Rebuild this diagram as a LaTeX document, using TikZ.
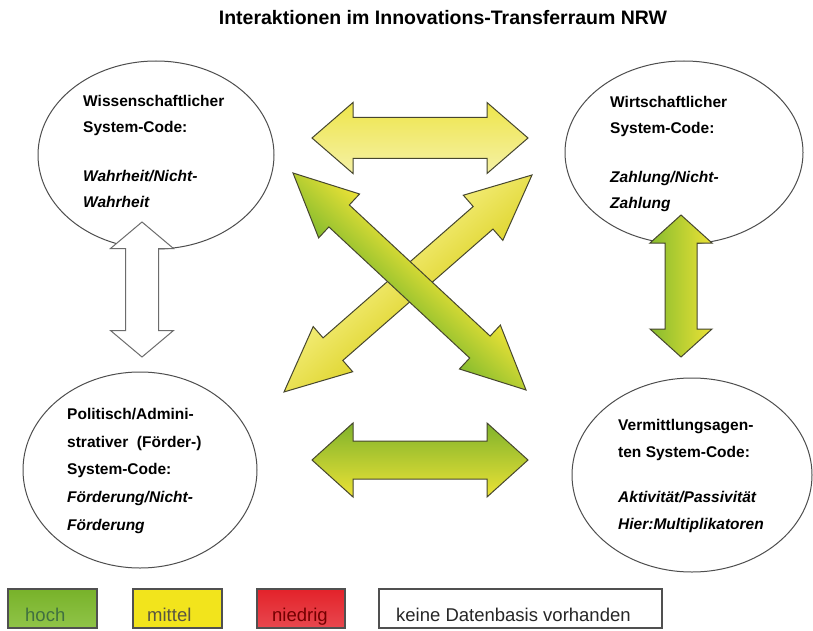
\documentclass[tikz,border=0pt]{standalone}
\usepackage{fontspec}
\setmainfont{Liberation Sans}
\usetikzlibrary{shapes.geometric}

\definecolor{arrowedge}{HTML}{46462E}
\definecolor{ellipseedge}{HTML}{4E4E4E}
\definecolor{boxedge}{HTML}{505050}
\definecolor{leaf}{HTML}{86BC2E}
\definecolor{sun}{HTML}{ECE236}
\definecolor{paleyellow}{HTML}{F5F1A6}
\definecolor{legendgreen}{HTML}{78B22A}
\definecolor{legendgreenlight}{HTML}{90C448}
\definecolor{legendyellow}{HTML}{F2E41C}
\definecolor{legendred}{HTML}{E3222A}
\definecolor{legendredlight}{HTML}{E8484F}

% double-headed block arrow along the local x axis:
% #1 length, #2 head length, #3 half head width, #4 half shaft width
\newcommand\dblarrowpath[4]{(0,0) -- (#2,#3) -- (#2,#4) -- ({#1-#2},#4) -- ({#1-#2},#3) -- (#1,0)
  -- ({#1-#2},-#3) -- ({#1-#2},-#4) -- (#2,-#4) -- (#2,-#3) -- cycle}

\begin{document}
\begin{tikzpicture}[x=1pt,y=-1pt,
  sysell/.style={draw=ellipseedge, line width=1pt, ellipse, inner sep=0pt, fill=white},
  codetext/.style={anchor=north west, inner sep=0pt, align=left,
    font=\fontsize{15.5}{26}\selectfont\bfseries},
  arrowline/.style={draw=arrowedge, line width=1pt, line join=miter},
  legbox/.style={draw=boxedge, line width=1.2pt, minimum height=39pt, inner sep=0pt},
  legtext/.style={anchor=base west, inner sep=0pt, font=\fontsize{18.5}{22}\selectfont},
]
\useasboundingbox[fill=white] (0,0) rectangle (813,631);

% title
\node[anchor=base, inner sep=0pt, font=\fontsize{19.5}{23}\selectfont\bfseries] (title)
  at (443,25) {Interaktionen im Innovations-Transferraum NRW};

% the four systems
\node[sysell, minimum width=236pt, minimum height=188pt] (wiss) at (156,155) {};
\node[sysell, minimum width=238pt, minimum height=183pt] (wirt) at (684,152.5) {};
\node[sysell, minimum width=234pt, minimum height=196pt] (polit) at (140,470) {};
\node[sysell, minimum width=240pt, minimum height=194pt] (verm) at (692,475) {};

% horizontal arrows
\begin{scope}[transform canvas={shift={(312,138)}}]
  \path[arrowline, top color=sun!90!white, bottom color=paleyellow] \dblarrowpath{216}{41}{35.5}{20.5};
\end{scope}
\begin{scope}[transform canvas={shift={(312,460)}}]
  \path[arrowline, top color=leaf!95!black, bottom color=sun] \dblarrowpath{216}{41}{37}{19};
\end{scope}

% vertical arrows
\begin{scope}[transform canvas={shift={(142,222)}, rotate=-90}]
  \path[draw=gray!85!black, line width=1pt, fill=white] \dblarrowpath{135}{26.5}{31.5}{16.5};
\end{scope}
\begin{scope}[transform canvas={shift={(681,215)}, rotate=-90}]
  \path[arrowline, top color=sun, bottom color=leaf] \dblarrowpath{142}{28}{31}{16};
\end{scope}

% crossing diagonal arrows
\begin{scope}[transform canvas={shift={(532,175)}, rotate=-138.82}]
  \path[arrowline, top color=sun!95!black, bottom color=sun!70!white] \dblarrowpath{329.5}{65}{30}{15};
\end{scope}
\begin{scope}[transform canvas={shift={(293,173)}, rotate=-42.96}]
  \path[arrowline, top color=sun, bottom color=leaf] \dblarrowpath{318.4}{63}{30}{15};
\end{scope}

% system codes
\node[codetext] (wisstxt) at (83,95)
  {Wissenschaftlicher\\System-Code:\\[23pt]\textit{Wahrheit/Nicht-}\\\textit{Wahrheit}};
\node[codetext] (wirttxt) at (610,96)
  {Wirtschaftlicher\\System-Code:\\[23pt]\textit{Zahlung/Nicht-}\\\textit{Zahlung}};
\node[codetext, font=\fontsize{15.5}{27.7}\selectfont\bfseries] (polittxt) at (67,408)
  {Politisch/Admini-\\strativer \ (Förder-)\\System-Code:\\\textit{Förderung/Nicht-}\\\textit{Förderung}};
\node[codetext, font=\fontsize{15.5}{27}\selectfont\bfseries] (vermtxt) at (618,419)
  {Vermittlungsagen-\\ten System-Code:\\[18pt]\textit{Aktivität/Passivität}\\\textit{Hier:Multiplikatoren}};

% legend
\node[legbox, minimum width=89pt, top color=legendgreen, bottom color=legendgreenlight] (hoch) at (52.5,608.5) {};
\node[legbox, minimum width=89pt, fill=legendyellow] (mittel) at (177.5,608.5) {};
\node[legbox, minimum width=88pt, top color=legendred, bottom color=legendredlight] (niedrig) at (301,608.5) {};
\node[legbox, minimum width=283pt, fill=white] (keine) at (520.5,608.5) {};
\node[legtext, text=green!25!black!75] (thoch) at (25,621) {hoch};
\node[legtext, text=black!75!yellow] (tmittel) at (147,621) {mittel};
\node[legtext, text=red!45!black] (tniedrig) at (272,621) {niedrig};
\node[legtext, text=black!85] (tkeine) at (396,621) {keine Datenbasis vorhanden};
\end{tikzpicture}
\end{document}
